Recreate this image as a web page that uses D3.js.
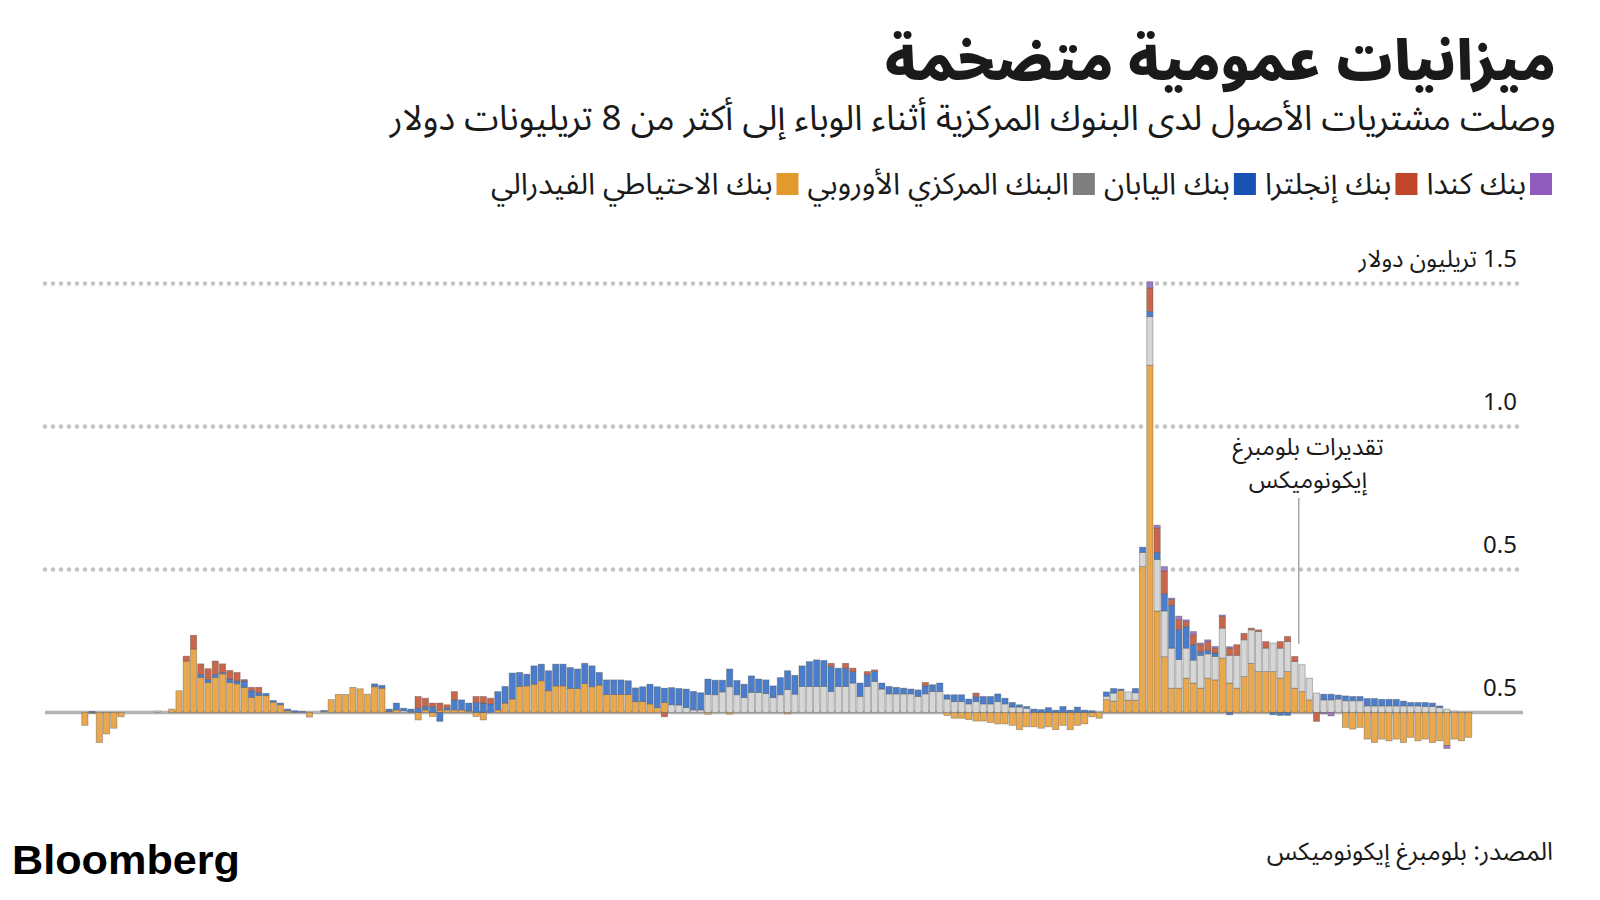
<!DOCTYPE html>
<html><head><meta charset="utf-8">
<script src="https://cdn.jsdelivr.net/npm/d3@7"></script>
<style>
html,body{margin:0;padding:0;background:#fff;}
svg text{font-family:"Noto Sans Arabic","Noto Kufi Arabic","DejaVu Sans",sans-serif;fill:#1a1a1a;}
</style></head><body>
<svg id="chart" width="1600" height="900"></svg>
<script>
// ---------- DATA (trillions of US dollars, monthly asset purchases) ----------
const startMonth = "2007-07-01";
const monthCount = 204;
const seriesKeys = ["fed","ecb","boj","boe","boc"];

const fed = [
/*0*/ 0,0,0,0,0,-0.045,-0.003,-0.105,-0.075,-0.055,
/*10*/ -0.015,0,0,0,0,0,0,0.012,0.076,0.18,
/*20*/ 0.222,0.123,0.105,0.123,0.135,0.105,0.1,0.088,0.053,0.059,
/*30*/ 0.059,0.036,0.027,0.006,0,0,-0.016,0,0,0.045,
/*40*/ 0.063,0.063,0.088,0.083,0.064,0.09,0.085,0.004,0.009,0,
/*50*/ 0,-0.026,0.009,-0.014,0.008,0.009,0.009,0.009,0.005,-0.014,
/*60*/ -0.026,0,0.009,0.033,0.047,0.091,0.093,0.099,0.111,0.076,
/*70*/ 0.093,0.093,0.084,0.084,0.101,0.09,0.096,0.063,0.063,0.063,
/*80*/ 0.063,0.038,0.038,0.03,0.017,0.035,0,0,0,0,
/*90*/ 0,-0.006,0,0,-0.006,0,0,0,0,0,
/*100*/ 0,0,-0.005,0,0,0,0,0,0,0,
/*110*/ 0,0,0,0,0,0,0,0,0,0,
/*120*/ 0,0,0,0,-0.01,-0.02,-0.02,-0.025,-0.03,-0.03,
/*130*/ -0.035,-0.04,-0.04,-0.045,-0.06,-0.05,-0.05,-0.055,-0.05,-0.06,
/*140*/ -0.045,-0.06,-0.045,-0.04,-0.015,-0.02,0.045,0.04,0.077,0.043,
/*150*/ 0.043,0.51,1.214,0.355,0.195,0.085,0.085,0.12,0.103,0.085,
/*160*/ 0.12,0.114,0.19,0.103,0.085,0.126,0.172,0.143,0.143,0.143,
/*170*/ 0.12,0.143,0.085,0.073,0.044,0,0,0,0,-0.052,
/*180*/ -0.058,-0.052,-0.093,-0.105,-0.093,-0.099,-0.093,-0.105,-0.087,-0.099,
/*190*/ -0.093,-0.105,-0.099,-0.115,-0.093,-0.099,-0.087,0,0,0,
/*200*/ 0,0,0,0
];

const ecb = [
/*0*/ 0,0,0,0,0,0,0,0,0,0,
/*10*/ 0,0,0,0,0,0.005,0,0,0,0,
/*20*/ 0,0,0,0,0,0,0,0,0,0,
/*30*/ 0,0,0,0,0,0,0,0,0.004,0,
/*40*/ 0,0,0,0,0,0,0,0,0,0.006,
/*50*/ 0,0,0,0,0,0,0,0,0,0,
/*60*/ 0,0,0,0,0,0,0,0,0,0,
/*70*/ 0,0,0,0,0,0,0,0,0,0,
/*80*/ 0,0,0,0,0,0,0.027,0.026,0.017,0.009,
/*90*/ 0.009,0.063,0.062,0.072,0.09,0.062,0.052,0.07,0.07,0.066,
/*100*/ 0.052,0.062,0.08,0.064,0.091,0.091,0.091,0.091,0.073,0.091,
/*110*/ 0.091,0.103,0.056,0.091,0.108,0.082,0.065,0.065,0.065,0.065,
/*120*/ 0.056,0.065,0.073,0.073,0.047,0.038,0.038,0.03,0.038,0.03,
/*130*/ 0.03,0.038,0.03,0.019,0.019,0.015,0,0,0,0,
/*140*/ 0,0,0,0,0,0,0.012,0.028,0,0.029,
/*150*/ 0.026,0.05,0.17,0.18,0.16,0.14,0.1,0.105,0.08,0.115,
/*160*/ 0.085,0.082,0.105,0.097,0.115,0.128,0.117,0.14,0.082,0.1,
/*170*/ 0.105,0.105,0.093,0.094,0.076,0.068,0.044,0.044,0.047,0.041,
/*180*/ 0.041,0.041,0.023,0.023,0.023,0.023,0.023,0.023,0.023,0.023,
/*190*/ 0.021,0.021,0.017,0.012,0.005,0,0,0,0,0,
/*200*/ 0,0,0,0
];

const boj = [
/*0*/ 0,0,0,0,0,0,0.004,0,0,0,
/*10*/ 0,0,0,0,0,0,0,0,0,0,
/*20*/ 0,0.01,0.01,0.01,0.005,0.012,0.01,0.022,0.023,0.01,
/*30*/ 0.008,0.006,0.006,0.006,0.006,0.004,0,0,0.003,0,
/*40*/ 0,0,0,0,0,0.01,0.01,0.008,0.024,0.009,
/*50*/ 0.012,0.015,0.012,0.02,-0.031,0.008,0.035,0.035,0.028,0.035,
/*60*/ 0.033,0.03,0.064,0.058,0.091,0.049,0.041,0.064,0.058,0.07,
/*70*/ 0.076,0.076,0.073,0.068,0.071,0.073,0.044,0.051,0.051,0.051,
/*80*/ 0.048,0.048,0.052,0.069,0.073,0.05,0.06,0.058,0.065,0.065,
/*90*/ 0.06,0.054,0.051,0.041,0.062,0.05,0.047,0.058,0.047,0.048,
/*100*/ 0.041,0.06,0.066,0.066,0.072,0.087,0.093,0.091,0.088,0.064,
/*110*/ 0.064,0.04,0.047,0.041,0.035,0.021,0.026,0.023,0.02,0.017,
/*120*/ 0.023,0.028,0.024,0.03,0.015,0.024,0.024,0.017,0.017,0.026,
/*130*/ 0.026,0.027,0.02,0.016,0.008,0.006,0.012,0.01,0.017,0.008,
/*140*/ 0.021,0.008,0.019,0.008,0.006,0,0.015,0.016,0.005,0,
/*150*/ 0.015,0.018,0.018,0.025,0.06,0.15,0.105,0.075,0.054,0.013,
/*160*/ 0.012,0.012,0,-0.008,0,0,0,0,0,-0.008,
/*170*/ -0.01,-0.01,0,0,0,0,0.02,0.02,0.014,0.017,
/*180*/ 0.015,0.015,0.026,0.026,0.023,0.023,0.023,0.017,0.012,0.012,
/*190*/ 0.014,0.012,0.006,0,0,0,0,0,0,0,
/*200*/ 0,0,0,0
];

const boe = [
/*0*/ 0,0,0,0,0,0,0,0,0,0,
/*10*/ 0,0,0,0,0,0,0,0,0,0.017,
/*20*/ 0.048,0.037,0.038,0.047,0.03,0.03,0.03,0.005,0.012,0.019,
/*30*/ 0,0,0,0,0,0,0,0,0,0,
/*40*/ 0,0,0,0,0,0,0,0,0,0,
/*50*/ 0,0.041,0.029,0.013,0.025,0.01,0.029,0,0,0.021,
/*60*/ 0.023,0.02,0,0,0,0,0,0,0,0,
/*70*/ 0,0,0,0,0,0,0,0,0,0,
/*80*/ 0,0,0,0,0,-0.015,0,0,0,0,
/*90*/ 0,0,0,0,0,0,0,0,0,0,
/*100*/ 0,0,0,0,0,0,0,0,0.011,0,
/*110*/ 0.017,0.012,0,0.011,0.006,0,0,0,0,0,
/*120*/ 0,0.012,0,0,0,0,0,0,0.013,0,
/*130*/ 0,0,0,0,0,0,0,0,0,0,
/*140*/ 0,0,0,0,0,0,0,0,0,0,
/*150*/ 0,0,0.082,0.085,0.08,0.02,0.035,0.018,0.035,0.024,
/*160*/ 0.031,0.017,0.041,0.025,0.037,0.023,0.006,0.006,0.023,0,
/*170*/ 0.023,0.018,0.018,0,0,-0.031,0,0,0,0,
/*180*/ 0,0,0,0,0,0,0,0,0,0,
/*190*/ 0,0,0,0,0,0,0,0,0,0,
/*200*/ 0,0,0,0
];

const boc = [
/*0*/ 0,0,0,0,0,0,0,0,0,0,
/*10*/ 0,0,0,0,0,0,0,0,0,0,
/*20*/ 0,0,0,0,0,0,0,0,0,0,
/*30*/ 0,0,0,0,0,0,0,0,0,0,
/*40*/ 0,0,0,0,0,0,0,0,0,0,
/*50*/ 0,0,0,0,0,0,0,0,0,0,
/*60*/ 0,0,0,0,0,0,0,0,0,0,
/*70*/ 0,0,0,0,0,0,0,0,0,0,
/*80*/ 0,0,0,0,0,0,0,0,0,0,
/*90*/ 0,0,0,0,0,0,0,0,0,0,
/*100*/ 0,0,0,0,0,0,0,0,0,0,
/*110*/ 0,0,0,0,0,0,0,0,0,0,
/*120*/ 0,0,0,0,0,0,0,0,0,0,
/*130*/ 0,0,0,0,0,0,0,0,0,0,
/*140*/ 0,0,0,0,0,0,0,0,0,0,
/*150*/ 0,0,0.022,0.01,0.015,0.005,0.012,0.006,0.011,0.006,
/*160*/ 0.006,0.006,0.005,0.005,0,0,0,0,0,0,
/*170*/ 0,0,0,0,0,0,-0.005,-0.012,0,0,
/*180*/ 0,0,0,0,0,0,0,0,0,0,
/*190*/ 0,0,0,-0.011,0,0,0,0,0,0,
/*200*/ 0,0,0,0
];

const tickValues = [0, 0.5, 1.0, 1.5];
const tickLabels = ["0.5", "0.5", "1.0", "1.5 تريليون دولار"];
// legend, right-to-left order
const legendKeys = ["boc","boe","boj","ecb","fed"];
const legendLabels = ["بنك كندا","بنك إنجلترا","بنك اليابان","البنك المركزي الأوروبي","بنك الاحتياطي الفيدرالي"];
const titleText = "ميزانيات عمومية متضخمة";
const subtitleText = "وصلت مشتريات الأصول لدى البنوك المركزية أثناء الوباء إلى أكثر من 8 تريليونات دولار";
const noteLines = ["تقديرات بلومبرغ","إيكونوميكس"];
const sourceText = "المصدر: بلومبرغ إيكونوميكس";

// ---------- STYLE ----------
const barColor = {fed:"#e9a84d", ecb:"#d6d6d6", boj:"#4a7dcb", boe:"#c9674c", boc:"#a07bc6"};
const swatchColor = {fed:"#e39a2d", ecb:"#7f7f7f", boj:"#1a52b3", boe:"#c0462a", boc:"#8f5bbd"};

const svg = d3.select("#chart");

const series = {fed, ecb, boj, boe, boc};
const categories = d3.timeMonth.range(new Date(startMonth), d3.timeMonth.offset(new Date(startMonth), monthCount)).map(d3.timeFormat("%Y-%m"));
const rows = categories.map((c, i) => {
  const r = {month: c};
  seriesKeys.forEach(k => r[k] = series[k][i]);
  return r;
});

const x = d3.scaleBand().domain(categories).range([45, 1523]).paddingInner(0.14).paddingOuter(0.07);
const y = d3.scaleLinear().domain([0, 1.5]).range([712.5, 283.5]);

// gridlines
const grid = svg.append("g");
grid.selectAll("line.g").data(tickValues.filter(v => v > 0)).join("line")
  .attr("x1", 45).attr("x2", 1523)
  .attr("y1", d => y(d)).attr("y2", d => y(d))
  .attr("stroke", "#c4c4c4").attr("stroke-width", 4.5)
  .attr("stroke-linecap", "round").attr("stroke-dasharray", "0,8");
// zero line
grid.append("line").attr("x1", 45).attr("x2", 1523).attr("y1", y(0)).attr("y2", y(0))
  .attr("stroke", "#b3b3b3").attr("stroke-width", 3.5);

// tick labels
svg.append("g").selectAll("text").data(tickValues).join("text")
  .attr("x", 1517).attr("y", d => y(d) - 17)
  .attr("direction", "rtl").attr("text-anchor", "start")
  .style("font-size", "24px")
  .text((d, i) => tickLabels[i]);

// bars
const stacked = d3.stack().keys(seriesKeys).offset(d3.stackOffsetDiverging)(rows);
svg.append("g").selectAll("g").data(stacked).join("g")
  .attr("fill", d => barColor[d.key])
  .selectAll("rect").data(d => d.filter(p => p[1] - p[0] !== 0)).join("rect")
  .attr("x", d => x(d.data.month))
  .attr("width", x.bandwidth())
  .attr("y", d => y(Math.max(d[0], d[1])))
  .attr("height", d => Math.abs(y(d[0]) - y(d[1])))
  .attr("stroke", "#4d4d4d").attr("stroke-opacity", 0.45).attr("stroke-width", 0.8);

// annotation (one multi-line text)
const noteX = x(categories[172]) + x.bandwidth()/2 + 4;
svg.append("line").attr("x1", noteX).attr("x2", noteX).attr("y1", 498).attr("y2", y(0.24))
  .attr("stroke", "#9a9a9a").attr("stroke-width", 1.3);
svg.append("text").attr("text-anchor", "middle").attr("direction", "rtl")
  .style("font-size", "24px")
  .selectAll("tspan").data(noteLines).join("tspan")
  .attr("x", 1308).attr("y", (d, i) => 455 + i * 33).text(d => d);

// title & subtitle (one text block, two lines)
const head = svg.append("text").attr("direction", "rtl").attr("text-anchor", "start");
head.append("tspan").attr("x", 1556).attr("y", 80)
  .style("font-size", "55px").style("font-weight", 900).text(titleText);
head.append("tspan").attr("x", 1556).attr("y", 130)
  .style("font-size", "35px").style("font-weight", 400).text(subtitleText);

// legend
const lg = svg.append("g");
let cursor = 1552;
legendKeys.forEach((k, i) => {
  lg.append("rect").attr("x", cursor - 22).attr("y", 173).attr("width", 22).attr("height", 22).attr("fill", swatchColor[k]);
  cursor -= 26;
  const t = lg.append("text").attr("x", cursor).attr("y", 194).attr("direction", "rtl").attr("text-anchor", "start")
    .style("font-size", "30px").text(legendLabels[i]);
  cursor -= t.node().getComputedTextLength() + 9;
});

// footer
svg.append("text").attr("x", 12).attr("y", 874)
  .attr("textLength", 228).attr("lengthAdjust", "spacingAndGlyphs")
  .style("font-family", "'Liberation Sans', Arial, sans-serif").style("font-weight", 700)
  .style("font-size", "40px").style("fill", "#000").text("Bloomberg");
svg.append("text").attr("x", 1553).attr("y", 860).attr("direction", "rtl").attr("text-anchor", "start")
  .style("font-size", "25px").text(sourceText);
</script>
</body></html>
